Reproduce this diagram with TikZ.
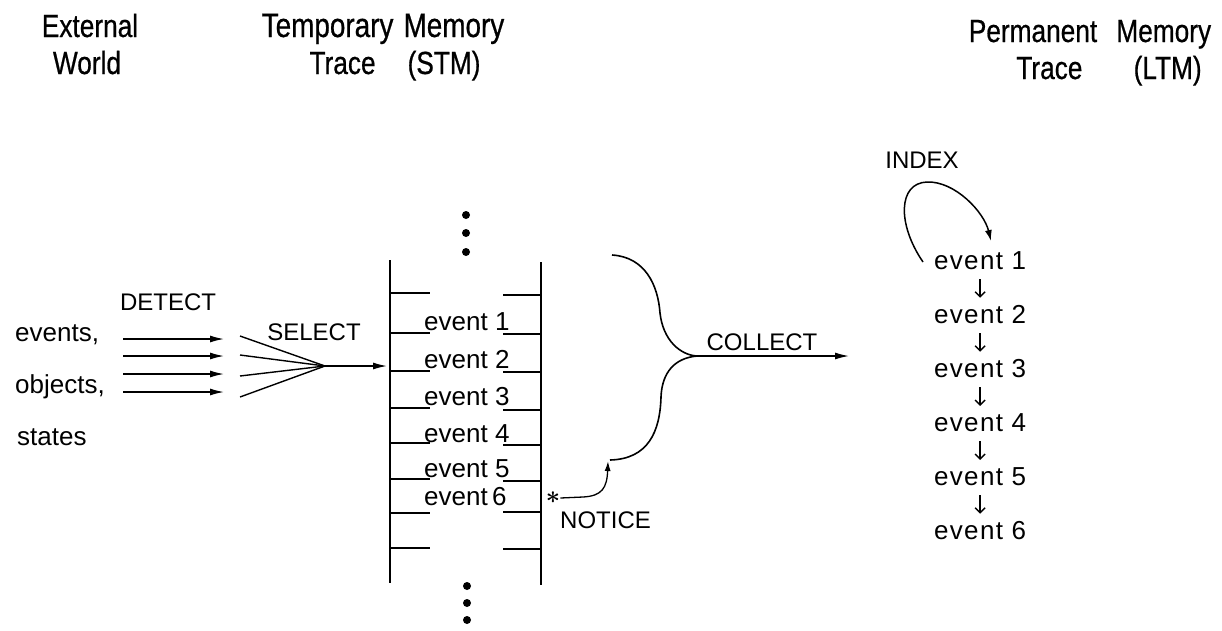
\documentclass[tikz,border=0pt]{standalone}
\usepackage{fontspec}
\setmainfont{Liberation Sans}
\newfontfamily\headfont[FakeStretch=0.82,FakeBold=0.6]{Liberation Sans}
\usetikzlibrary{arrows.meta}
\begin{document}
\begin{tikzpicture}[x=1pt,y=-1pt,
  hdr/.style={font=\headfont\fontsize{32}{36}\selectfont, inner sep=0pt, anchor=base},
  lbl/.style={font=\fontsize{26}{30}\selectfont, inner sep=0pt, anchor=base west},
  ltmev/.style={font=\fontsize{26}{30}\selectfont\addfontfeature{LetterSpace=5}, inner sep=0pt, anchor=base west},
  act/.style={font=\fontsize{24}{28}\selectfont, inner sep=0pt, anchor=base},
  flow/.style={line width=1.4pt, -{Latex[length=14pt,width=7pt]}},
  fan/.style={line width=1.4pt},
  rail/.style={line width=2.8pt},
  rung/.style={line width=1.8pt},
  brace/.style={line width=1.6pt},
  dot/.style={circle, fill, inner sep=0pt, minimum size=8pt},
  down/.style={line width=1.3pt, -{Straight Barb[length=5pt,width=10pt]}, shorten <=10pt, shorten >=7pt},
]
\useasboundingbox (0,0) rectangle (1222,630);
\fill[white] (0,0) rectangle (1222,630);

% column headings
\node[hdr] (ext1) at (90,37) {External};
\node[hdr] (ext2) at (87,74) {World};
\node[hdr, font=\headfont\fontsize{34}{38}\selectfont] (stm1) at (383,37) {Temporary\hspace{0.3em}Memory};
\node[hdr] (stm2) at (395,74) {Trace\hspace{1em}(STM)};
\node[hdr] (ltm1h) at (1090,42) {Permanent\hspace{0.6em}Memory};
\node[hdr] (ltm2h) at (1109,79) {Trace\hspace{1.6em}(LTM)};

% external world
\node[lbl] (ev) at (15,341) {events,};
\node[lbl] (ob) at (15,393) {objects,};
\node[lbl] (st) at (17,445) {states};
\node[act] (detect) at (168,310) {DETECT};
\node[act] (select) at (314,340) {SELECT};

\foreach \i/\y in {1/339,2/356,3/374,4/392} {
  \coordinate (din\i) at (123,\y);
  \coordinate (dout\i) at (224,\y);
  \draw[flow] (din\i) -- (dout\i);
}
\coordinate (hub) at (325,366);
\foreach \i/\y in {1/336,2/355,3/376,4/397} {
  \coordinate (fs\i) at (240,\y);
  \draw[fan] (fs\i) -- (hub);
}
\coordinate (stmin) at (387,366);
\draw[flow] (hub) -- (stmin);

% short-term trace: the ladder
\coordinate (lt) at (390,260);
\coordinate (lb) at (390,583);
\coordinate (rt) at (541,262);
\coordinate (rb) at (541,585);
\draw[rail] (lt) -- (lb);
\draw[rail] (rt) -- (rb);
\foreach \y in {293,333,371,408,443,479,513,548}
  \draw[rung] (390,\y) -- (430,\y);
\foreach \y in {295,334,372,410,445,481,512,549}
  \draw[rung] (503,\y) -- (541,\y);

\node[lbl] (s1) at (424,330) {event 1};
\node[lbl] (s2) at (424,368) {event 2};
\node[lbl] (s3) at (424,405) {event 3};
\node[lbl] (s4) at (424,442) {event 4};
\node[lbl] (s5) at (424,477) {event 5};
\node[lbl] (s6) at (424,505) {event\,6};

\node[dot] (td1) at (466,215) {};
\node[dot] (td2) at (466,233) {};
\node[dot] (td3) at (466,252) {};
\node[dot] (bd1) at (467,586) {};
\node[dot] (bd2) at (467,603) {};
\node[dot] (bd3) at (467,620) {};

% collect brace
\coordinate (bt) at (612,255);
\coordinate (bp) at (697,356);
\coordinate (bb) at (610,460);
\draw[brace] (bt) .. controls (645,257) and (658,285) .. (660,313)
  .. controls (663,340) and (680,355) .. (bp)
  .. controls (675,358) and (662,372) .. (661,397)
  .. controls (660,432) and (648,459) .. (bb);
\coordinate (collend) at (849,356);
\draw[flow] (bp) -- (collend);
\node[act] (collect) at (762,350) {COLLECT};

% notice
\node[inner sep=0pt, font=\fontsize{24}{26}\selectfont\boldmath] (star) at (553,498) {$\ast$};
\coordinate (noticetip) at (608,461);
\draw[line width=1.3pt, -{Latex[length=10pt,width=6pt]}] (star.east) -- (583,497)
  .. controls (602,496) and (607,488) .. (noticetip);
\node[act, anchor=base west] (notice) at (560,528) {NOTICE};

% long-term trace
\node[act] (index) at (922,168) {INDEX};
\node[ltmev] (l1) at (934,269) {event 1};
\node[ltmev] (l2) at (934,323) {event 2};
\node[ltmev] (l3) at (934,377) {event 3};
\node[ltmev] (l4) at (934,431) {event 4};
\node[ltmev] (l5) at (934,485) {event 5};
\node[ltmev] (l6) at (934,539) {event 6};
\draw[down] (l1.south) -- (l2.north);
\draw[down] (l2.south) -- (l3.north);
\draw[down] (l3.south) -- (l4.north);
\draw[down] (l4.south) -- (l5.north);
\draw[down] (l5.south) -- (l6.north);

\coordinate (loopstart) at (923,262);
\coordinate (loopend) at (991,241);
\draw[line width=1.5pt, -{Latex[length=11pt,width=7pt]}] (loopstart)
  .. controls (897,224) and (898,183) .. (927,182)
  .. controls (955,181) and (984,212) .. (loopend);
\end{tikzpicture}
\end{document}
